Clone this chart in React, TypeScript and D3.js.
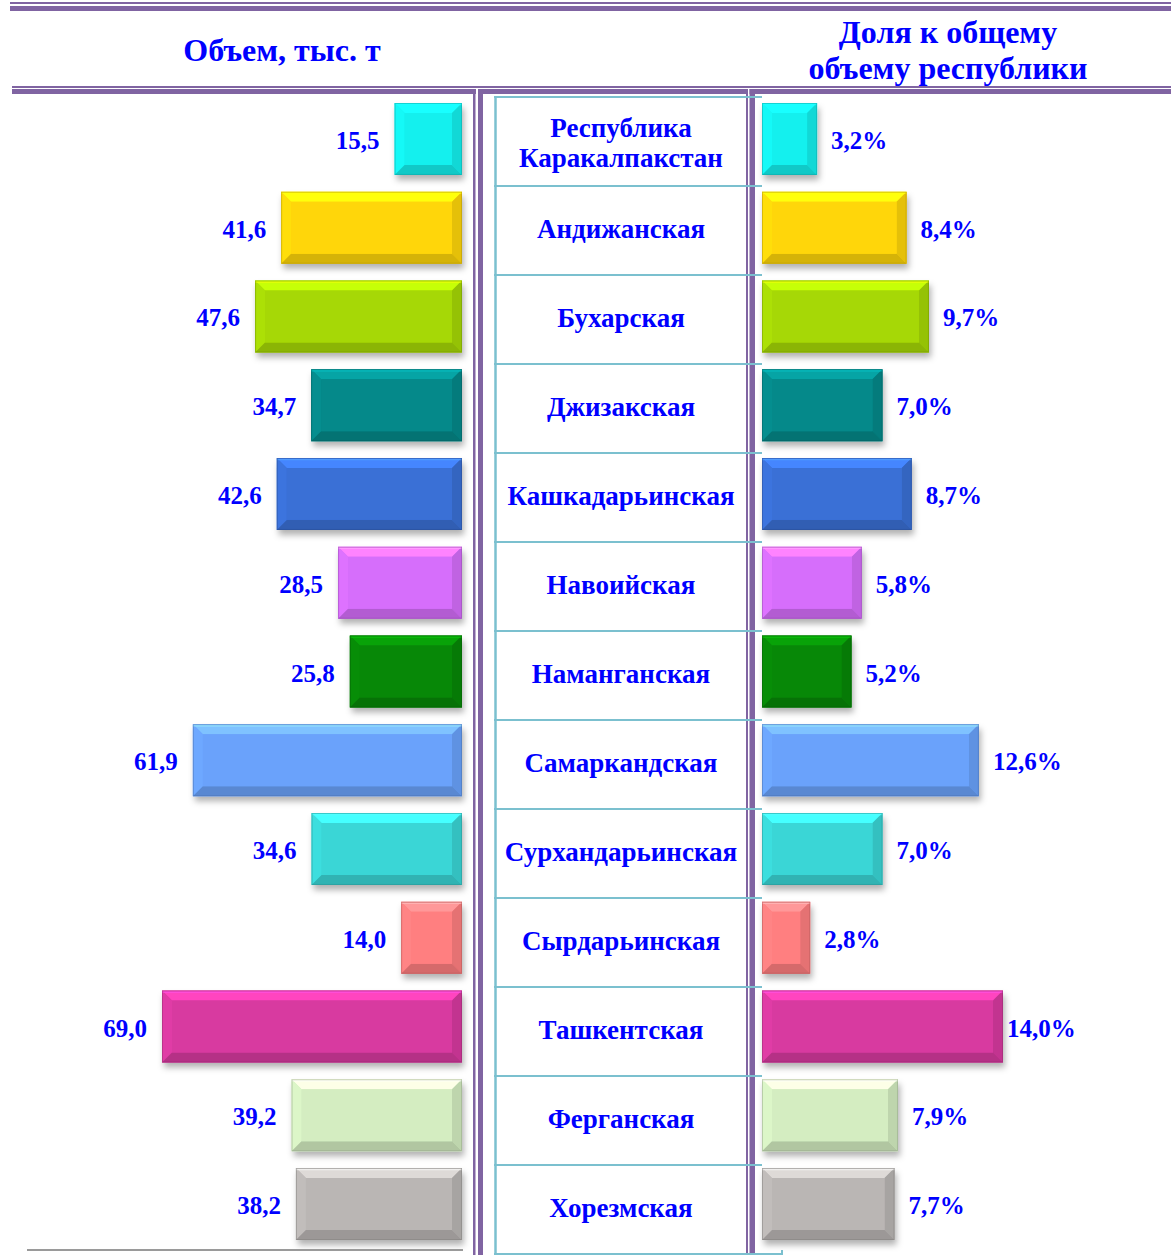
import * as d3 from 'd3';
import React from 'react';

// regions of Uzbekistan, volume (thous. t) and share of the republic total (%)
const regions = [
    ['Республика', 'Каракалпакстан'],
    ['Андижанская'],
    ['Бухарская'],
    ['Джизакская'],
    ['Кашкадарьинская'],
    ['Навоийская'],
    ['Наманганская'],
    ['Самаркандская'],
    ['Сурхандарьинская'],
    ['Сырдарьинская'],
    ['Ташкентская'],
    ['Ферганская'],
    ['Хорезмская'],
];
const volumes = [15.5, 41.6, 47.6, 34.7, 42.6, 28.5, 25.8, 61.9, 34.6, 14.0, 69.0, 39.2, 38.2];
const shares = [3.2, 8.4, 9.7, 7.0, 8.7, 5.8, 5.2, 12.6, 7.0, 2.8, 14.0, 7.9, 7.7];
const barColors = [
    '#14f0ee', '#ffd60a', '#a6d806', '#05898a', '#3a70d6', '#d66efb', '#078807',
    '#6aa2fb', '#3ad6d6', '#ff7f80', '#d83aa0', '#d4edc1', '#bab6b4',
];

const PURPLE = '#8064a2';
const TEAL = '#7bc0cf';
const BLUE = '#0000ff';
const FONT = '"Liberation Serif", "Times New Roman", serif';

const fmt = (v) => d3.format('.1f')(v).replace('.', ',');

// rectangle with a bevel, like the office "bevel" shape effect
function BevelBar({x, y, w, h, color}) {
    const b = Math.min(10, w / 3, h / 3);
    const c = d3.color(color);
    const top = c.brighter(0.5).formatHex();
    const left = c.brighter(0.1).formatHex();
    const right = c.darker(0.3).formatHex();
    const bottom = c.darker(0.5).formatHex();
    const edge = c.darker(1).formatHex();
    const x2 = x + w, y2 = y + h;
    return (
        <g>
            <rect x={x} y={y} width={w} height={h} fill={color} filter="url(#shadow)" />
            <polygon points={`${x},${y} ${x2},${y} ${x2 - b},${y + b} ${x + b},${y + b}`} fill={top} />
            <polygon points={`${x},${y} ${x + b},${y + b} ${x + b},${y2 - b} ${x},${y2}`} fill={left} />
            <polygon points={`${x2},${y} ${x2},${y2} ${x2 - b},${y2 - b} ${x2 - b},${y + b}`} fill={right} />
            <polygon points={`${x},${y2} ${x + b},${y2 - b} ${x2 - b},${y2 - b} ${x2},${y2}`} fill={bottom} />
            <rect x={x + b} y={y + b} width={Math.max(0, w - 2 * b)} height={Math.max(0, h - 2 * b)} fill={color} />
            <line x1={x} x2={x2} y1={y + 1.5} y2={y + 1.5} stroke={c.brighter(1.2).formatHex()} strokeWidth={1.5} opacity={0.6} />
            <rect x={x + 0.5} y={y + 0.5} width={w - 1} height={h - 1} fill="none" stroke={edge} strokeWidth={1} opacity={0.5} />
        </g>
    );
}

export default function App() {
    const width = 1171, height = 1255;
    const keys = regions.map((r) => r.join(' '));

    // rows of the middle table
    const rowScale = d3.scaleBand().domain(keys).range([97, 1254]);
    // bars inside rows
    const barScale = d3.scaleBand().domain(keys).range([103, 1240]).paddingInner(0.189);
    const barH = barScale.bandwidth();

    const xLeft = d3.scaleLinear().domain([0, 69.0]).range([462, 162]);
    const xRight = d3.scaleLinear().domain([0, 14.0]).range([762, 1003]);
    // share labels don't go past this x (the longest one sits tight to its bar)
    const maxLabelX = xRight(14.0) + 4;

    return (
        <div style={{position: 'absolute', left: 0, top: 0}}>
            <svg width={width} height={height} style={{display: 'block', background: '#fff'}} fontFamily={FONT}>
                <defs>
                    <filter id="shadow" x="-10%" y="-20%" width="130%" height="160%">
                        <feDropShadow dx="2" dy="5" stdDeviation="3" floodColor="#000" floodOpacity="0.3" />
                    </filter>
                </defs>

                {/* header lines */}
                <rect x={10} y={2} width={width - 10} height={2} fill={PURPLE} />
                <rect x={10} y={6} width={width - 10} height={5} fill={PURPLE} />
                <rect x={12} y={86} width={width - 12} height={2} fill={PURPLE} />
                <rect x={12} y={89} width={width - 12} height={5} fill={PURPLE} />

                {/* headers */}
                <text x={282} y={61} textAnchor="middle" fontSize={32} fontWeight="bold" fill={BLUE}>Объем, тыс. т</text>
                <text x={948} y={43} textAnchor="middle" fontSize={32} fontWeight="bold" fill={BLUE}>Доля к общему</text>
                <text x={948} y={79} textAnchor="middle" fontSize={32} fontWeight="bold" fill={BLUE}>объему республики</text>

                {/* vertical double lines */}
                <rect x={476} y={88} width={2} height={height - 88} fill="#fff" />
                <rect x={473} y={89} width={2.5} height={height - 89} fill={PURPLE} />
                <rect x={478} y={89} width={5} height={height - 89} fill={PURPLE} />
                <rect x={748} y={88} width={1.5} height={height - 88} fill="#fff" />
                <rect x={746} y={89} width={2} height={height - 89} fill={PURPLE} />
                <rect x={749.5} y={89} width={5.5} height={height - 89} fill={PURPLE} />

                {/* middle table */}
                <line x1={495.5} x2={495.5} y1={97} y2={1254} stroke={TEAL} strokeWidth={2.5} />
                {keys.map((k) => (
                    <line key={k} x1={494} x2={762} y1={rowScale(k)} y2={rowScale(k)} stroke={TEAL} strokeWidth={2} />
                ))}
                <line x1={494} x2={783} y1={1254} y2={1254} stroke={TEAL} strokeWidth={2} />
                <line x1={782} x2={782} y1={1250} y2={1255} stroke={TEAL} strokeWidth={2} />
                {regions.map((r, i) => {
                    const cy = rowScale(keys[i]) + rowScale.bandwidth() / 2;
                    const lh = 30;
                    const y0 = r.length > 1 ? cy - ((r.length - 1) * lh) / 2 + 10 : cy + 7;
                    return (
                        <text key={keys[i]} x={621} textAnchor="middle" fontSize={27} fontWeight="bold" fill={BLUE}>
                            {r.map((line, j) => (
                                <tspan key={j} x={621} y={y0 + j * lh}>{line}</tspan>
                            ))}
                        </text>
                    );
                })}

                {/* left bars: volume */}
                {volumes.map((v, i) => {
                    const y = barScale(keys[i]);
                    return (
                        <g key={'l' + i}>
                            <BevelBar x={xLeft(v)} y={y} w={xLeft(0) - xLeft(v)} h={barH} color={barColors[i]} />
                            <text x={xLeft(v) - 15} y={y + barH / 2 + 10} textAnchor="end" fontSize={25} fontWeight="bold" fill={BLUE}>
                                {fmt(v)}
                            </text>
                        </g>
                    );
                })}
                <line x1={27} x2={463} y1={1250} y2={1250} stroke="#9a9a9a" strokeWidth={2} />

                {/* right bars: share */}
                {shares.map((s, i) => {
                    const y = barScale(keys[i]);
                    return (
                        <g key={'r' + i}>
                            <BevelBar x={xRight(0)} y={y} w={xRight(s) - xRight(0)} h={barH} color={barColors[i]} />
                            <text x={Math.min(xRight(s) + 14, maxLabelX)} y={y + barH / 2 + 10} textAnchor="start" fontSize={25} fontWeight="bold" fill={BLUE}>
                                {fmt(s)}%
                            </text>
                        </g>
                    );
                })}
            </svg>
        </div>
    );
}
